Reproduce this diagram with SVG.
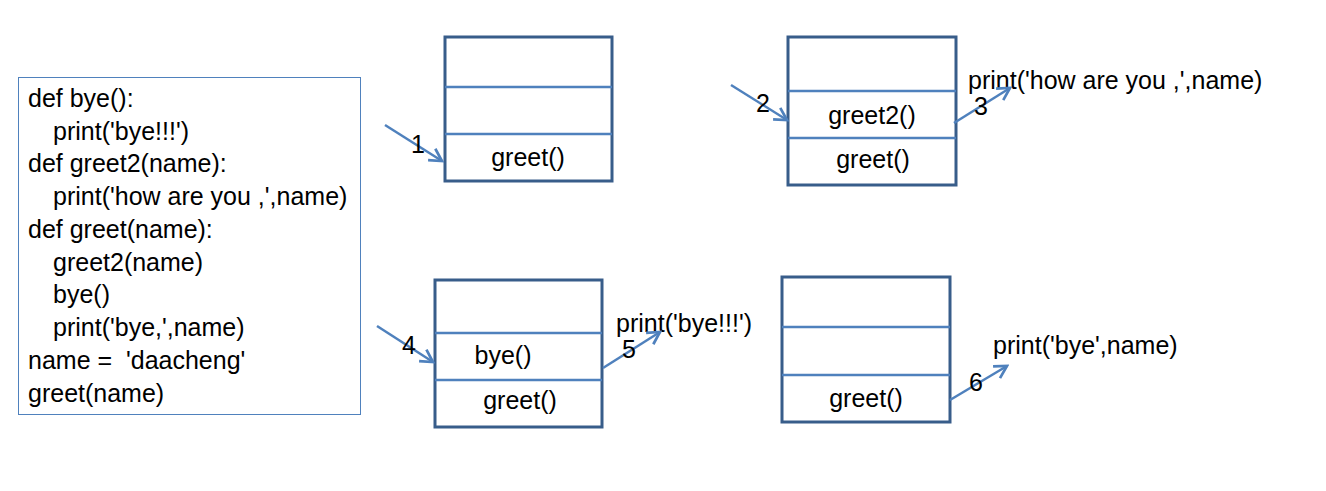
<svg xmlns="http://www.w3.org/2000/svg" width="1326" height="491" viewBox="0 0 1326 491">
<style>
text{font-family:"Liberation Sans",Arial,sans-serif;font-size:25px;fill:#000}
.c{text-anchor:middle}
.frame{fill:none;stroke:#385d8a;stroke-width:3}
.div{stroke:#4f81bd;stroke-width:2.5}
.arr{stroke:#4f81bd;stroke-width:2.5;fill:none;marker-end:url(#ah)}
</style>
<defs>
<marker id="ah" viewBox="0 0 12 12" refX="10" refY="6" markerWidth="6.5" markerHeight="6.5" orient="auto" markerUnits="strokeWidth">
<path d="M1,1 L10,6 L1,11" fill="none" stroke="#4f81bd" stroke-width="2"/>
</marker>
</defs>
<rect width="1326" height="491" fill="#fff"/>
<g id="code">
<rect x="18.5" y="77.5" width="342" height="337" fill="none" stroke="#4f81bd" stroke-width="1"/>
<text x="28" y="107">def bye():</text>
<text x="53" y="140">print('bye!!!')</text>
<text x="28" y="172">def greet2(name):</text>
<text x="53" y="205">print('how are you ,',name)</text>
<text x="28" y="238">def greet(name):</text>
<text x="53" y="271">greet2(name)</text>
<text x="53" y="303">bye()</text>
<text x="53" y="336">print('bye,',name)</text>
<text x="28" y="369">name = &#160;'daacheng'</text>
<text x="28" y="402">greet(name)</text>
</g>
<g id="frame1">
<rect class="frame" x="445" y="37" width="167" height="144"/>
<line class="div" x1="445" y1="87" x2="612" y2="87"/>
<line class="div" x1="445" y1="134" x2="612" y2="134"/>
<text class="c" x="528" y="166">greet()</text>
</g>
<g id="frame2">
<rect class="frame" x="788" y="37" width="168" height="148"/>
<line class="div" x1="788" y1="91" x2="956" y2="91"/>
<line class="div" x1="788" y1="138" x2="956" y2="138"/>
<text class="c" x="872" y="124">greet2()</text>
<text class="c" x="873" y="168">greet()</text>
</g>
<g id="frame3">
<rect class="frame" x="435" y="280" width="167" height="147"/>
<line class="div" x1="435" y1="333" x2="602" y2="333"/>
<line class="div" x1="435" y1="380" x2="602" y2="380"/>
<text class="c" x="503" y="364">bye()</text>
<text class="c" x="520" y="409">greet()</text>
</g>
<g id="frame4">
<rect class="frame" x="782" y="277" width="168" height="145"/>
<line class="div" x1="782" y1="327" x2="950" y2="327"/>
<line class="div" x1="782" y1="375" x2="950" y2="375"/>
<text class="c" x="866" y="407">greet()</text>
</g>
<g id="outputs">
<text x="968" y="89">print('how are you ,',name)</text>
<text x="616" y="332">print('bye!!!')</text>
<text x="993" y="354">print('bye',name)</text>
</g>
<g id="connectors">
<line class="arr" x1="385" y1="125" x2="442" y2="161"/>
<line class="arr" x1="731" y1="85" x2="787" y2="120"/>
<line class="arr" x1="954" y1="123" x2="1010" y2="88"/>
<line class="arr" x1="377" y1="326" x2="433" y2="362"/>
<line class="arr" x1="603" y1="368" x2="660" y2="332"/>
<line class="arr" x1="950" y1="400" x2="1007" y2="366"/>
<text x="411" y="153">1</text>
<text x="756" y="112">2</text>
<text x="974" y="115">3</text>
<text x="402" y="354">4</text>
<text x="622" y="358">5</text>
<text x="969" y="391">6</text>
</g>
</svg>
